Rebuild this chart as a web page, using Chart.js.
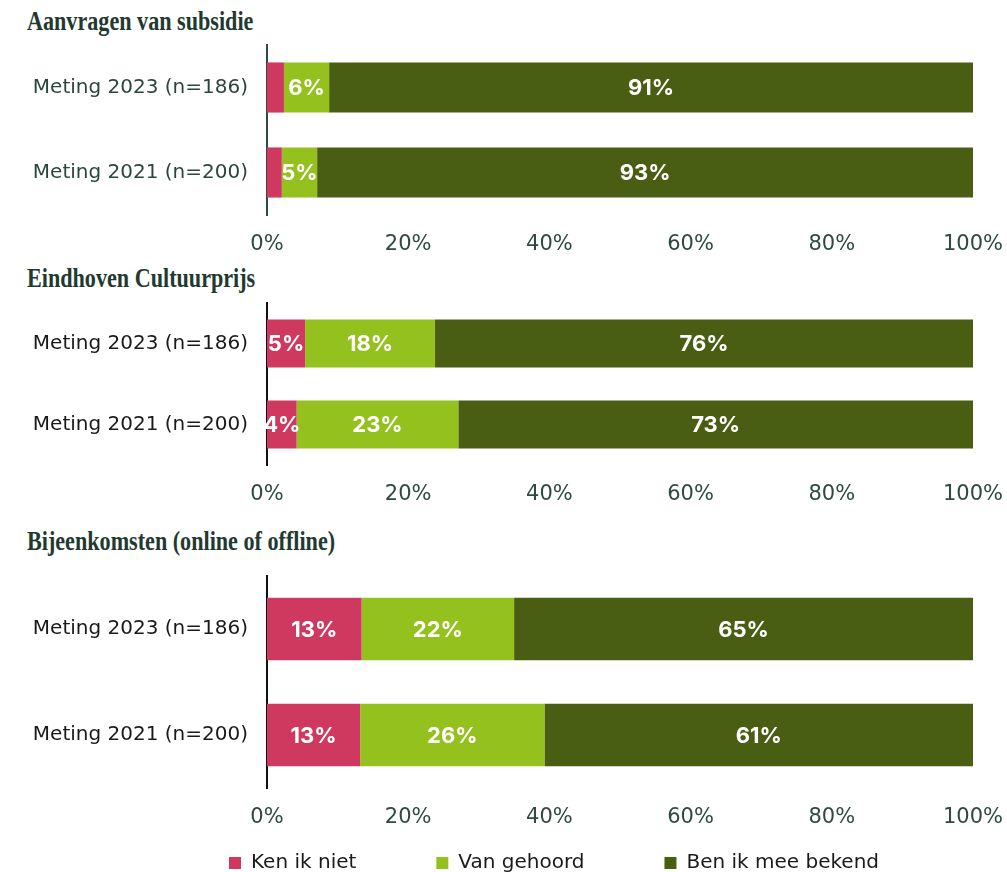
<!DOCTYPE html>
<html>
<head>
<meta charset="utf-8">
<script src="https://cdn.jsdelivr.net/npm/chart.js@4.4.1/dist/chart.umd.min.js"></script>
<style>
  body { margin: 0; width: 1007px; height: 872px; overflow: hidden; background: #fff; position: relative; }
  .title { position: absolute; left: 27px; font: bold 27px "Liberation Serif"; line-height: 1; color: #1f3a30;
           transform: scaleX(0.82); transform-origin: 0 0; white-space: nowrap; }
  .box { position: absolute; left: 0; width: 1007px; }
</style>
</head>
<body>
<div class="title" style="top:8px">Aanvragen van subsidie</div>
<div class="box" style="top:32px;height:228px"><canvas id="c1"></canvas></div>
<div class="title" style="top:265px">Eindhoven Cultuurprijs</div>
<div class="box" style="top:290px;height:220px"><canvas id="c2"></canvas></div>
<div class="title" style="top:528px">Bijeenkomsten (online of offline)</div>
<div class="box" style="top:563px;height:320px"><canvas id="c3"></canvas></div>
<script>
const categories = ['Meting 2023 (n=186)', 'Meting 2021 (n=200)'];
const seriesNames = ['Ken ik niet', 'Van gehoord', 'Ben ik mee bekend'];
const seriesColors = ['#d0395f', '#95c11f', '#4a5e13'];
const tickValues = [0, 20, 40, 60, 80, 100];

const subsidieKen = [2.4, 2.1];
const subsidieVan = [6.4, 5.0];
const subsidieBen = [91.2, 92.9];

const prijsKen = [5.4, 4.2];
const prijsVan = [18.4, 22.9];
const prijsBen = [76.2, 72.9];

const bijeenKen = [13.4, 13.2];
const bijeenVan = [21.6, 26.1];
const bijeenBen = [65.0, 60.7];

const SANS = '"DejaVu Sans"';

// white percentage labels in the middle of each segment
const barLabels = {
  id: 'barLabels',
  afterDatasetsDraw(chart) {
    const ctx = chart.ctx;
    ctx.save();
    ctx.fillStyle = '#fff';
    ctx.font = 'bold 22px Inter';
    ctx.textAlign = 'center';
    ctx.textBaseline = 'middle';
    chart.data.datasets.forEach((ds, i) => {
      chart.getDatasetMeta(i).data.forEach((el, j) => {
        const v = ds.data[j];
        if (v < 3) return;
        ctx.fillText(Math.round(v) + '%', (el.x + el.base) / 2, el.y + 1);
      });
    });
    ctx.restore();
  }
};

// start the legend row a bit to the right, like the original
const legendShift = {
  id: 'legendShift',
  afterLayout(chart) {
    if (chart.legend && chart.options.plugins.legend.display) chart.legend.left = 219;
  }
};

function makeChart(id, ken, van, ben, o) {
  const values = [ken, van, ben];
  return new Chart(document.getElementById(id), {
    type: 'bar',
    data: {
      labels: categories,
      datasets: seriesNames.map((name, i) => ({
        label: name,
        data: values[i],
        backgroundColor: seriesColors[i],
        borderWidth: 0,
        barPercentage: 0.59,
        categoryPercentage: 1
      }))
    },
    options: {
      indexAxis: 'y',
      responsive: true,
      maintainAspectRatio: false,
      animation: false,
      layout: { padding: { top: 13, right: 34 } },
      scales: {
        x: {
          stacked: true,
          min: 0,
          max: 100,
          afterBuildTicks: s => { s.ticks = tickValues.map(v => ({ value: v })); },
          afterFit: s => { s.height = o.xHeight; },
          grid: { display: false, tickLength: 17 },
          border: { display: false },
          ticks: {
            callback: v => v + '%',
            color: '#2f4b41',
            font: { family: SANS, size: 21 },
            padding: 0
          }
        },
        y: {
          stacked: true,
          afterFit: s => { s.width = 267; },
          grid: { display: false, tickLength: 19 },
          border: { display: true, color: o.axisColor, width: 2 },
          ticks: {
            color: o.labelColor,
            font: { family: SANS, size: 20 },
            padding: 0
          }
        }
      },
      plugins: {
        tooltip: { enabled: false },
        legend: o.legend ? {
          display: true,
          position: 'bottom',
          align: 'start',
          labels: {
            boxWidth: 12,
            boxHeight: 12,
            padding: 10,
            color: '#1a1a1a',
            font: { family: SANS, size: 20 },
            generateLabels: chart => {
              const items = Chart.defaults.plugins.legend.labels.generateLabels(chart);
              items.forEach((it, i) => { if (i < items.length - 1) it.text += '\u2002'.repeat(7); });
              return items;
            }
          }
        } : { display: false }
      }
    },
    plugins: [barLabels, legendShift]
  });
}

makeChart('c1', subsidieKen, subsidieVan, subsidieBen, { labelColor: '#2b463c', axisColor: '#2f4b41', xHeight: 45 });
makeChart('c2', prijsKen, prijsVan, prijsBen, { labelColor: '#1a1a1a', axisColor: '#111', xHeight: 45 });
makeChart('c3', bijeenKen, bijeenVan, bijeenBen, { labelColor: '#1a1a1a', axisColor: '#111', xHeight: 55, legend: true });
</script>
</body>
</html>
